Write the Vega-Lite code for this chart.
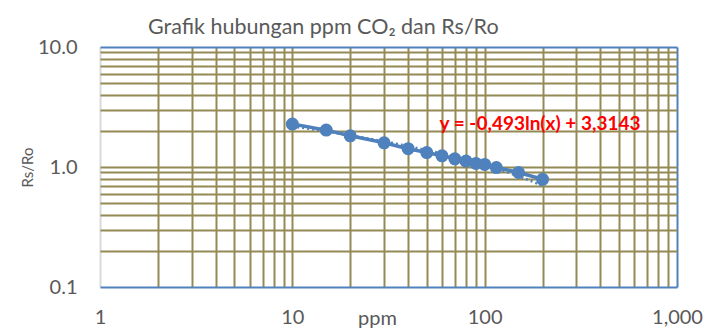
{
  "$schema": "https://vega.github.io/schema/vega-lite/v6.json",
  "width": 577,
  "height": 240,
  "autosize": {"type": "none"},
  "padding": {"left": 100, "top": 47, "right": 44, "bottom": 43},
  "background": "white",
  "title": {
    "text": "Grafik hubungan ppm CO₂ dan Rs/Ro",
    "anchor": "start",
    "frame": "group",
    "dx": 48,
    "offset": -18,
    "baseline": "alphabetic",
    "font": "Lato",
    "fontSize": 21.5,
    "fontWeight": "normal",
    "color": "#595959"
  },
  "config": {
    "view": {"stroke": null},
    "axis": {"labelFont": "Lato", "titleFont": "Lato"}
  },
  "data": {
    "values": [
      {"ppm": 10, "rsro": 2.28},
      {"ppm": 15, "rsro": 2.03},
      {"ppm": 20, "rsro": 1.82},
      {"ppm": 30, "rsro": 1.59},
      {"ppm": 40, "rsro": 1.42},
      {"ppm": 50, "rsro": 1.32},
      {"ppm": 60, "rsro": 1.24},
      {"ppm": 70, "rsro": 1.17},
      {"ppm": 80, "rsro": 1.12},
      {"ppm": 90, "rsro": 1.07},
      {"ppm": 100, "rsro": 1.05},
      {"ppm": 115, "rsro": 0.99},
      {"ppm": 150, "rsro": 0.9},
      {"ppm": 200, "rsro": 0.79}
    ]
  },
  "encoding": {
    "x": {
      "field": "ppm",
      "type": "quantitative",
      "scale": {"type": "log", "domain": [1, 1000], "nice": false},
      "axis": {
        "title": "ppm",
        "titleX": 277,
        "titleY": 21,
        "titleAlign": "center",
        "titleBaseline": "top",
        "titleFontSize": 20,
        "titleFontWeight": "normal",
        "titleColor": "#595959",
        "values": [1,2,3,4,5,6,7,8,9,10,20,30,40,50,60,70,80,90,100,200,300,400,500,600,700,800,900,1000],
        "labelExpr": "(datum.value == 1 || datum.value == 10 || datum.value == 100 || datum.value == 1000) ? format(datum.value, ',') : ''",
        "labelFontSize": 20,
        "labelColor": "#595959",
        "labelPadding": 20,
        "labelOverlap": false,
        "labelFlush": false,
        "ticks": false,
        "domain": false,
        "grid": true,
        "gridWidth": 2,
        "gridColor": {
          "condition": [
            {"test": "datum.value == 1", "value": "#D9D9D9"},
            {"test": "datum.value == 1000", "value": "#4F81BD"}
          ],
          "value": "#948A54"
        }
      }
    },
    "y": {
      "field": "rsro",
      "type": "quantitative",
      "scale": {"type": "log", "domain": [0.1, 10], "nice": false},
      "axis": {
        "title": "Rs/Ro",
        "titleX": -68,
        "titleY": 120,
        "titleAngle": -90,
        "titleAlign": "center",
        "titleBaseline": "alphabetic",
        "titleFontSize": 15,
        "titleFontWeight": "normal",
        "titleColor": "#595959",
        "values": [0.1,0.2,0.3,0.4,0.5,0.6,0.7,0.8,0.9,1,2,3,4,5,6,7,8,9,10],
        "labelExpr": "(datum.value == 0.1 || datum.value == 1 || datum.value == 10) ? format(datum.value, '.1f') : ''",
        "labelFontSize": 20,
        "labelColor": "#595959",
        "labelPadding": 23,
        "labelOverlap": false,
        "labelFlush": false,
        "ticks": false,
        "domain": false,
        "grid": true,
        "gridWidth": 2,
        "gridColor": {
          "condition": [
            {"test": "datum.value == 0.1", "value": "#4F81BD"},
            {"test": "datum.value == 10", "value": "#4F81BD"}
          ],
          "value": "#948A54"
        }
      }
    }
  },
  "layer": [
    {
      "mark": {"type": "line", "color": "#4F81BD", "strokeWidth": 3.5}
    },
    {
      "mark": {"type": "point", "filled": true, "color": "#4F81BD", "opacity": 1, "size": 170}
    },
    {
      "transform": [{"regression": "rsro", "on": "ppm", "method": "log"}],
      "mark": {"type": "line", "color": "#4F81BD", "strokeWidth": 2.5, "strokeDash": [2, 3]}
    },
    {
      "data": {"values": [{"ppm": 194, "rsro": 2.28, "label": "y = -0,493ln(x) + 3,3143"}]},
      "mark": {"type": "text", "color": "#FF0000", "font": "Lato", "fontSize": 19, "fontWeight": "bold", "align": "center", "baseline": "middle"},
      "encoding": {"text": {"field": "label"}}
    }
  ]
}
